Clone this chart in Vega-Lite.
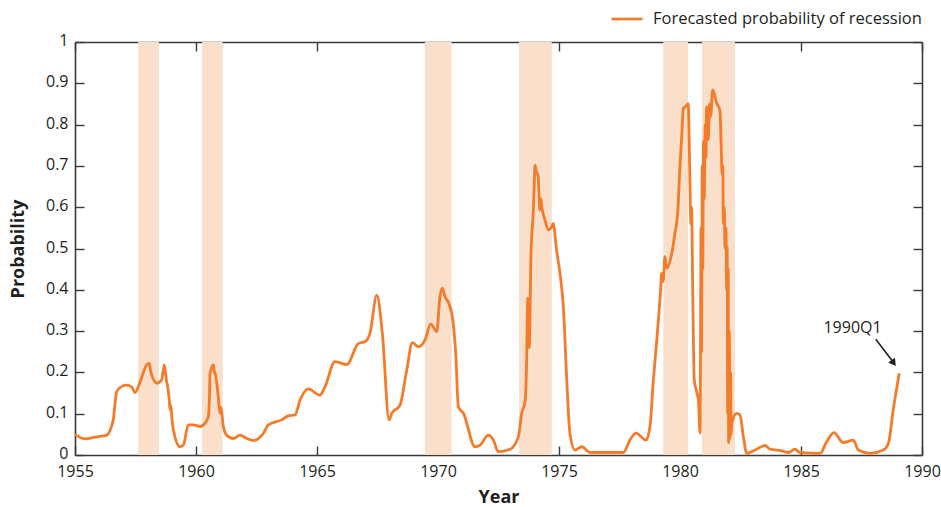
{
  "$schema": "https://vega.github.io/schema/vega-lite/v6.json",
  "width": 847,
  "height": 413,
  "autosize": {"type": "none"},
  "padding": {"left": 75, "top": 42, "right": 19, "bottom": 52},
  "background": "white",
  "config": {
    "view": {"stroke": null},
    "font": "Open Sans",
    "axis": {
      "grid": false,
      "labelFlush": false,
      "labelFont": "Open Sans",
      "labelFontSize": 16,
      "labelColor": "#231f20",
      "domainColor": "#3a3a3a",
      "domainWidth": 1.6,
      "tickColor": "#3a3a3a",
      "tickWidth": 1.4,
      "titleFont": "Open Sans",
      "titleFontWeight": "bold",
      "titleFontSize": 18,
      "titleColor": "#231f20"
    }
  },
  "datasets": {
    "prob": [
      {"t":1955.00,"p":0.050},{"t":1955.41,"p":0.039},{"t":1955.90,"p":0.044},{"t":1956.31,"p":0.048},
      {"t":1956.45,"p":0.060},{"t":1956.58,"p":0.085},{"t":1956.72,"p":0.153},{"t":1956.90,"p":0.165},
      {"t":1957.14,"p":0.169},{"t":1957.34,"p":0.165},{"t":1957.48,"p":0.151},{"t":1957.69,"p":0.177},
      {"t":1957.96,"p":0.218},{"t":1958.07,"p":0.222},{"t":1958.12,"p":0.205},{"t":1958.17,"p":0.194},
      {"t":1958.38,"p":0.174},{"t":1958.58,"p":0.182},{"t":1958.69,"p":0.218},{"t":1958.78,"p":0.180},
      {"t":1958.83,"p":0.165},{"t":1958.90,"p":0.130},{"t":1958.93,"p":0.109},{"t":1958.96,"p":0.120},
      {"t":1959.01,"p":0.085},{"t":1959.13,"p":0.044},{"t":1959.34,"p":0.020},{"t":1959.48,"p":0.024},
      {"t":1959.68,"p":0.073},{"t":1959.89,"p":0.073},{"t":1960.17,"p":0.069},{"t":1960.37,"p":0.077},
      {"t":1960.51,"p":0.093},{"t":1960.56,"p":0.150},{"t":1960.58,"p":0.198},{"t":1960.72,"p":0.218},
      {"t":1960.76,"p":0.200},{"t":1960.79,"p":0.198},{"t":1960.92,"p":0.141},{"t":1960.99,"p":0.101},
      {"t":1961.03,"p":0.115},{"t":1961.06,"p":0.105},{"t":1961.13,"p":0.069},{"t":1961.27,"p":0.048},
      {"t":1961.54,"p":0.040},{"t":1961.82,"p":0.048},{"t":1962.10,"p":0.040},{"t":1962.37,"p":0.035},
      {"t":1962.78,"p":0.052},{"t":1962.99,"p":0.073},{"t":1963.54,"p":0.085},{"t":1963.81,"p":0.095},
      {"t":1964.09,"p":0.097},{"t":1964.30,"p":0.133},{"t":1964.64,"p":0.160},{"t":1965.12,"p":0.145},
      {"t":1965.33,"p":0.165},{"t":1965.74,"p":0.226},{"t":1966.23,"p":0.219},{"t":1966.71,"p":0.270},
      {"t":1966.98,"p":0.274},{"t":1967.19,"p":0.295},{"t":1967.47,"p":0.387},{"t":1967.70,"p":0.295},
      {"t":1967.98,"p":0.085},{"t":1968.09,"p":0.101},{"t":1968.43,"p":0.121},{"t":1968.71,"p":0.206},
      {"t":1968.94,"p":0.272},{"t":1969.19,"p":0.262},{"t":1969.46,"p":0.278},{"t":1969.70,"p":0.317},
      {"t":1969.95,"p":0.299},{"t":1970.08,"p":0.383},{"t":1970.18,"p":0.404},{"t":1970.29,"p":0.383},
      {"t":1970.45,"p":0.367},{"t":1970.63,"p":0.319},{"t":1970.74,"p":0.238},{"t":1970.84,"p":0.117},
      {"t":1971.05,"p":0.101},{"t":1971.53,"p":0.020},{"t":1971.74,"p":0.024},{"t":1972.08,"p":0.048},
      {"t":1972.29,"p":0.036},{"t":1972.49,"p":0.008},{"t":1972.98,"p":0.014},{"t":1973.32,"p":0.044},
      {"t":1973.46,"p":0.101},{"t":1973.60,"p":0.130},{"t":1973.66,"p":0.220},{"t":1973.71,"p":0.380},
      {"t":1973.77,"p":0.260},{"t":1973.84,"p":0.480},{"t":1973.94,"p":0.593},{"t":1973.98,"p":0.660},
      {"t":1974.01,"p":0.702},{"t":1974.05,"p":0.690},{"t":1974.14,"p":0.674},{"t":1974.21,"p":0.593},
      {"t":1974.25,"p":0.620},{"t":1974.29,"p":0.600},{"t":1974.42,"p":0.569},{"t":1974.56,"p":0.545},
      {"t":1974.70,"p":0.553},{"t":1974.76,"p":0.561},{"t":1974.90,"p":0.496},{"t":1975.04,"p":0.440},
      {"t":1975.18,"p":0.359},{"t":1975.32,"p":0.182},{"t":1975.45,"p":0.053},{"t":1975.66,"p":0.012},
      {"t":1975.94,"p":0.020},{"t":1976.28,"p":0.006},{"t":1977.66,"p":0.006},{"t":1977.93,"p":0.036},
      {"t":1978.18,"p":0.053},{"t":1978.60,"p":0.036},{"t":1978.76,"p":0.069},{"t":1978.90,"p":0.182},
      {"t":1979.04,"p":0.278},{"t":1979.15,"p":0.359},{"t":1979.20,"p":0.400},{"t":1979.24,"p":0.440},
      {"t":1979.30,"p":0.420},{"t":1979.38,"p":0.480},{"t":1979.45,"p":0.452},{"t":1979.66,"p":0.488},
      {"t":1979.80,"p":0.540},{"t":1979.86,"p":0.561},{"t":1979.92,"p":0.600},{"t":1979.97,"p":0.666},
      {"t":1980.07,"p":0.771},{"t":1980.14,"p":0.839},{"t":1980.25,"p":0.845},{"t":1980.34,"p":0.851},
      {"t":1980.38,"p":0.760},{"t":1980.41,"p":0.666},{"t":1980.45,"p":0.560},{"t":1980.48,"p":0.600},
      {"t":1980.52,"p":0.424},{"t":1980.59,"p":0.182},{"t":1980.70,"p":0.150},{"t":1980.76,"p":0.133},
      {"t":1980.83,"p":0.053},{"t":1980.87,"p":0.550},{"t":1980.89,"p":0.250},{"t":1980.92,"p":0.700},
      {"t":1980.94,"p":0.450},{"t":1980.97,"p":0.760},{"t":1981.00,"p":0.620},{"t":1981.04,"p":0.800},
      {"t":1981.07,"p":0.720},{"t":1981.10,"p":0.843},{"t":1981.14,"p":0.800},{"t":1981.17,"p":0.763},
      {"t":1981.22,"p":0.850},{"t":1981.27,"p":0.820},{"t":1981.35,"p":0.884},{"t":1981.52,"p":0.851},
      {"t":1981.65,"p":0.835},{"t":1981.70,"p":0.750},{"t":1981.74,"p":0.680},{"t":1981.77,"p":0.700},
      {"t":1981.79,"p":0.561},{"t":1981.83,"p":0.600},{"t":1981.86,"p":0.500},{"t":1981.90,"p":0.550},
      {"t":1981.93,"p":0.400},{"t":1981.95,"p":0.504},{"t":1981.97,"p":0.100},{"t":1981.99,"p":0.450},
      {"t":1982.01,"p":0.030},{"t":1982.04,"p":0.300},{"t":1982.06,"p":0.040},{"t":1982.09,"p":0.200},
      {"t":1982.11,"p":0.050},{"t":1982.14,"p":0.077},{"t":1982.34,"p":0.101},{"t":1982.48,"p":0.097},
      {"t":1982.62,"p":0.044},{"t":1982.76,"p":0.004},{"t":1983.10,"p":0.012},{"t":1983.51,"p":0.023},
      {"t":1983.72,"p":0.014},{"t":1984.20,"p":0.010},{"t":1984.48,"p":0.006},{"t":1984.75,"p":0.014},
      {"t":1984.96,"p":0.006},{"t":1985.79,"p":0.004},{"t":1986.06,"p":0.032},{"t":1986.36,"p":0.054},
      {"t":1986.75,"p":0.030},{"t":1987.16,"p":0.036},{"t":1987.37,"p":0.012},{"t":1987.85,"p":0.004},
      {"t":1988.40,"p":0.012},{"t":1988.61,"p":0.028},{"t":1988.81,"p":0.109},{"t":1989.06,"p":0.198}
    ],
    "bands": [
      {"start":1957.61,"end":1958.47},
      {"start":1960.25,"end":1961.10},
      {"start":1969.46,"end":1970.56},
      {"start":1973.35,"end":1974.70},
      {"start":1979.31,"end":1980.33},
      {"start":1980.91,"end":1982.27}
    ],
    "arrow": [
      {"x1":1988.09,"y1":0.280,"x2":1988.80,"y2":0.226,"tx":1988.80,"ty":0.225}
    ],
    "label": [
      {"t":1987.13,"p":0.3075,"text":"1990Q1"}
    ]
  },
  "resolve": {"axis": {"x": "independent", "y": "independent"}},
  "layer": [
    {
      "data": {"name": "bands"},
      "mark": {"type": "rect", "color": "#FADFCA"},
      "encoding": {
        "x": {
          "field": "start", "type": "quantitative",
          "scale": {"domain": [1955, 1990], "nice": false, "zero": false},
          "axis": {
            "orient": "bottom",
            "values": [1955,1960,1965,1970,1975,1980,1985,1990],
            "format": "d",
            "tickSize": -9,
            "labelPadding": 17,
            "title": "Year",
            "titleX": 423.5,
            "titleY": 42,
            "titleBaseline": "middle",
            "titleAlign": "center"
          }
        },
        "x2": {"field": "end"}
      }
    },
    {
      "data": {"name": "prob"},
      "mark": {"type": "line", "strokeWidth": 2.8, "interpolate": "monotone", "strokeJoin": "round"},
      "encoding": {
        "x": {"field": "t", "type": "quantitative", "axis": null},
        "y": {
          "field": "p", "type": "quantitative",
          "scale": {"domain": [0, 1], "nice": false},
          "axis": {
            "orient": "left",
            "values": [0,0.1,0.2,0.3,0.4,0.5,0.6,0.7,0.8,0.9,1],
            "format": ".1~f",
            "tickSize": -9,
            "labelPadding": 16,
            "labelOffset": -1.5,
            "title": "Probability",
            "titleX": -57,
            "titleY": 206.5,
            "titleAngle": -90,
            "titleBaseline": "middle",
            "titleAlign": "center"
          }
        },
        "color": {
          "datum": "Forecasted probability of recession",
          "type": "nominal",
          "scale": {"domain": ["Forecasted probability of recession"], "range": ["#F47B2A"]},
          "legend": {
            "orient": "none",
            "legendX": 535,
            "legendY": -40,
            "title": null,
            "padding": 0,
            "symbolType": "stroke",
            "symbolSize": 961,
            "symbolStrokeWidth": 2.6,
            "labelFont": "Open Sans",
            "labelFontSize": 16.5,
            "labelLimit": 0,
            "labelColor": "#231f20",
            "labelOffset": 9
          }
        }
      }
    },
    {
      "data": {"name": "arrow"},
      "mark": {"type": "rule", "color": "#231f20", "strokeWidth": 1.6},
      "encoding": {
        "x": {"field": "x1", "type": "quantitative", "axis": null},
        "y": {"field": "y1", "type": "quantitative", "axis": null},
        "x2": {"field": "x2"},
        "y2": {"field": "y2"}
      }
    },
    {
      "data": {"name": "arrow"},
      "mark": {"type": "point", "shape": "triangle", "angle": 144, "filled": true, "color": "#231f20", "size": 70, "opacity": 1},
      "encoding": {
        "x": {"field": "tx", "type": "quantitative", "axis": null},
        "y": {"field": "ty", "type": "quantitative", "axis": null}
      }
    },
    {
      "data": {"name": "label"},
      "mark": {"type": "text", "font": "Open Sans", "fontSize": 16, "color": "#231f20", "align": "center", "baseline": "middle"},
      "encoding": {
        "x": {
          "field": "t", "type": "quantitative",
          "axis": {
            "orient": "top",
            "values": [1955,1960,1965,1970,1975,1980,1985,1990],
            "labels": false,
            "tickSize": -9,
            "title": null
          }
        },
        "y": {
          "field": "p", "type": "quantitative",
          "axis": {
            "orient": "right",
            "values": [0,0.1,0.2,0.3,0.4,0.5,0.6,0.7,0.8,0.9,1],
            "labels": false,
            "tickSize": -9,
            "title": null
          }
        },
        "text": {"field": "text"}
      }
    }
  ]
}
